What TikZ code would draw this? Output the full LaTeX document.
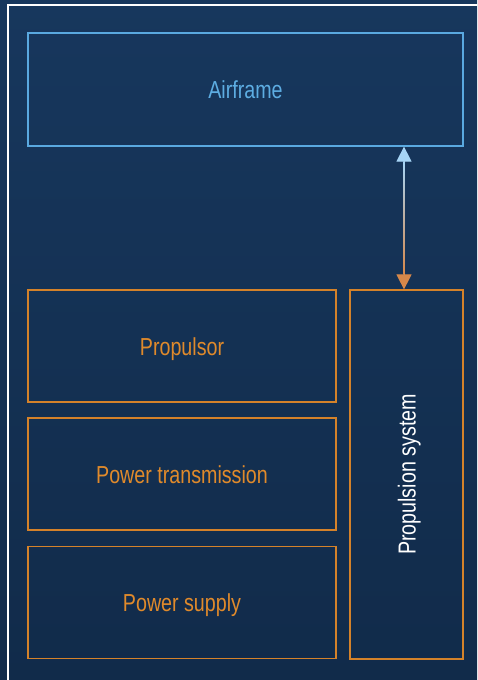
\documentclass[tikz,border=0pt]{standalone}
\usepackage{fontspec}
\setmainfont{Liberation Sans}[FakeStretch=0.8]
\usetikzlibrary{arrows.meta,calc}
\definecolor{bgtop}{HTML}{17375D}
\definecolor{bgbot}{HTML}{112B4A}
\definecolor{bluestroke}{HTML}{5AA9E0}
\definecolor{bluetext}{HTML}{5DADE2}
\definecolor{orstroke}{HTML}{D4822A}
\definecolor{ortext}{HTML}{E08A2B}
\definecolor{tipblue}{HTML}{A6D4F5}
\definecolor{tiporange}{HTML}{D6884A}
\tikzset{
  lbl/.style={font=\fontsize{24.6}{28}\selectfont, text height=22pt, text depth=4pt},
  blk/.style={lbl, draw=orstroke, line width=1.2pt, text=ortext, minimum width=308pt, minimum height=112pt, inner sep=0pt},
  topblk/.style={lbl, draw=bluestroke, line width=1.2pt, text=bluetext, minimum width=435pt, minimum height=113pt, inner sep=0pt},
  sideblk/.style={draw=orstroke, line width=1.2pt, minimum width=113pt, minimum height=369pt, inner sep=0pt},
  frameline/.style={draw=white, line width=1.5pt}
}
\begin{document}
\begin{tikzpicture}[x=1pt,y=-1pt]
\useasboundingbox (0,0) rectangle (477,680);
\clip (0,0) rectangle (477,680);
\shade[top color=bgtop, bottom color=bgbot] (0,0) rectangle (477,680);
\draw[frameline] (480,5) -- (8,5) -- (8,684);
\node[topblk] (af) at (245.5,89.5) {Airframe};
\node[blk] (prop) at (182,346) {Propulsor};
\node[blk] (trans) at (182,474) {Power transmission};
\node[blk] (supply) at (182,602.5) {Power supply};
\node[sideblk] (ps) at (406.5,474.5) {};
\node[lbl, rotate=90, text=white, inner sep=0pt] (pslabel) at (ps.center) {Propulsion system};
\coordinate (ax) at (404,0);
\draw[line width=1pt, draw=tipblue!50!tiporange,
  {Triangle[length=15pt,width=15pt,fill=tipblue,color=tipblue]}-{Triangle[length=15pt,width=15pt,fill=tiporange,color=tiporange]}]
  (af.south -| ax) -- (ps.north -| ax);
\shade[top color=tipblue, bottom color=tiporange] ($(af.south -| ax)+(-0.6,15)$) rectangle ($(ps.north -| ax)+(0.6,-15)$);
\end{tikzpicture}
\end{document}
